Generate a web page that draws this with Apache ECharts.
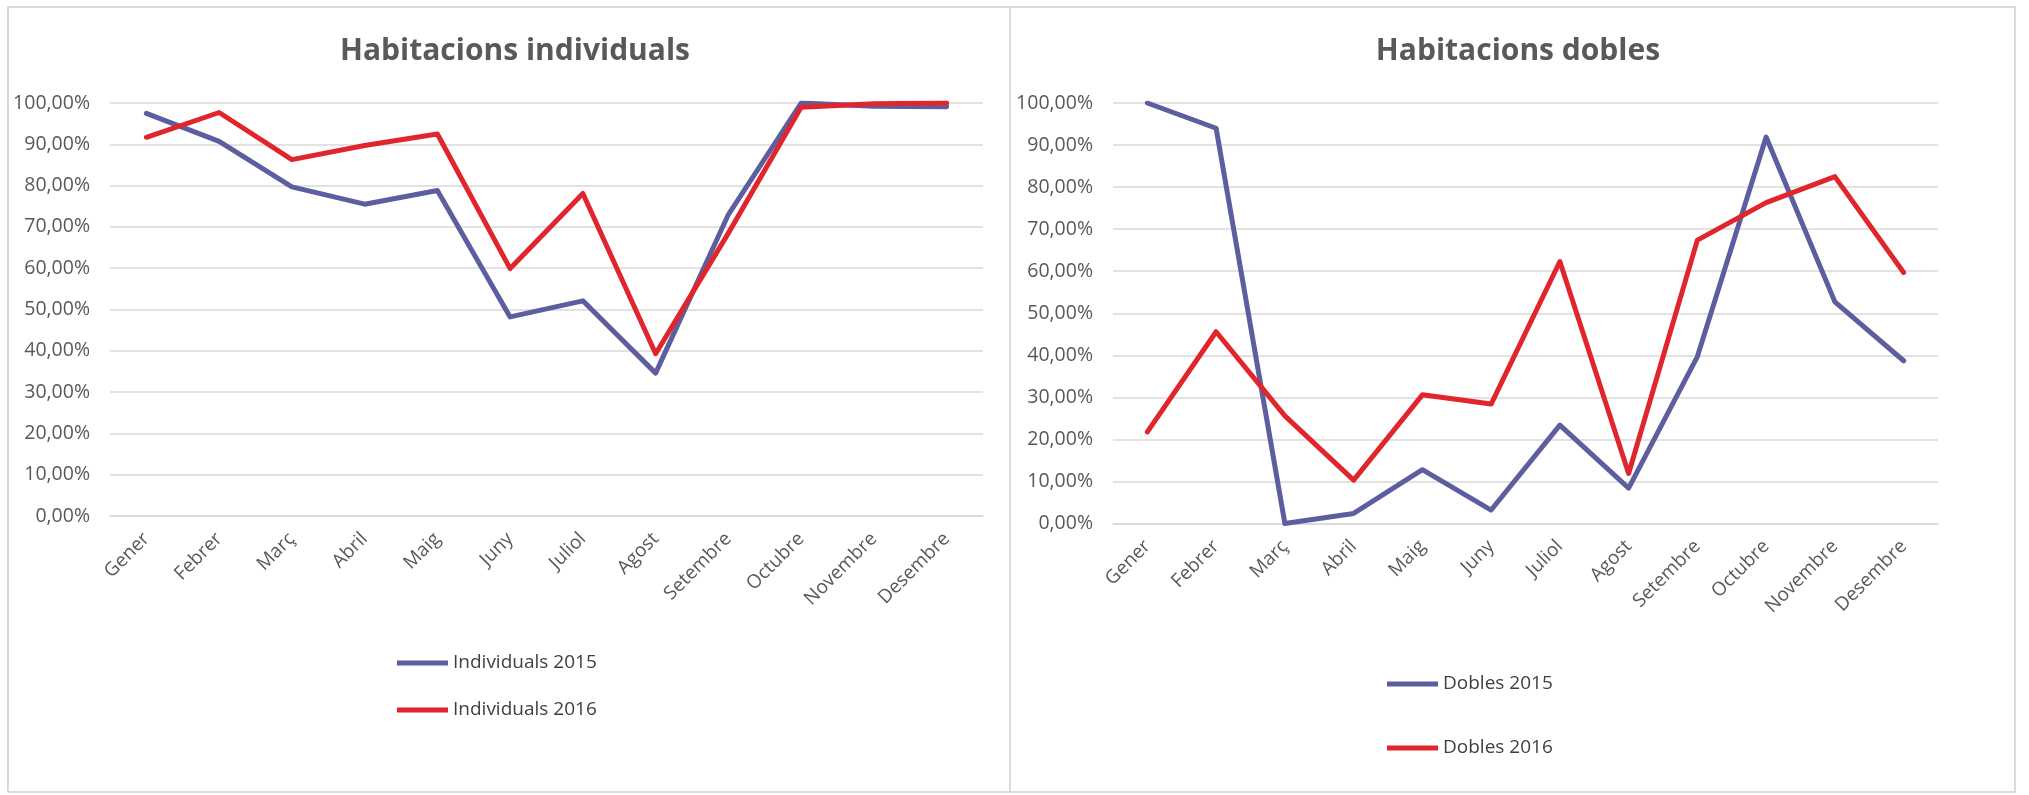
<!DOCTYPE html>
<html>
<head>
<meta charset="utf-8">
<script src="https://cdn.jsdelivr.net/npm/echarts@6/dist/echarts.min.js"></script>
<style>
html,body{margin:0;padding:0;background:#fff;}
#chart{width:2029px;height:795px;}
</style>
</head>
<body>
<div id="chart"></div>
<script>
// ---- data ----
var months = ['Gener','Febrer','Març','Abril','Maig','Juny','Juliol','Agost','Setembre','Octubre','Novembre','Desembre'];
var individuals2015 = [97.5, 90.7, 79.7, 75.5, 78.8, 48.2, 52.1, 34.6, 73.0, 100.0, 99.2, 99.1];
var individuals2016 = [91.7, 97.7, 86.3, 89.7, 92.5, 59.9, 78.1, 39.3, 68.5, 99.0, 99.8, 100.0];
var dobles2015 = [100.0, 94.0, 0.0, 2.4, 12.8, 3.2, 23.4, 8.4, 39.7, 91.9, 52.7, 38.7];
var dobles2016 = [21.8, 45.6, 25.6, 10.3, 30.6, 28.4, 62.3, 11.9, 67.4, 76.3, 82.5, 59.7];
var yTicks = {min: 0, max: 100, interval: 10};

var blue = '#5d5e9f';
var red = '#e0262c';
var grey = '#595959';
var gridCol = '#d9d9d9';
var font = '"Open Sans", "Noto Sans", sans-serif';

function pct(v){ return v.toFixed(2).replace('.', ',') + '%'; }

function xAxis(i){
  return {
    type: 'category', gridIndex: i, data: months, boundaryGap: true,
    axisTick: {show: false},
    axisLine: {lineStyle: {color: gridCol, width: 1.5}},
    axisLabel: {rotate: 45, interval: 0, margin: 20, color: grey, fontSize: 19, fontFamily: font}
  };
}
function yAxis(i){
  return {
    type: 'value', gridIndex: i, min: yTicks.min, max: yTicks.max, interval: yTicks.interval,
    axisLine: {show: false}, axisTick: {show: false},
    splitLine: {lineStyle: {color: gridCol, width: 1.5}},
    axisLabel: {formatter: pct, margin: 20, color: grey, fontSize: 19.5, fontFamily: font}
  };
}
function line(name, data, color, i){
  return {
    type: 'line', name: name, data: data, xAxisIndex: i, yAxisIndex: i,
    showSymbol: false, symbol: 'none', smooth: false,
    lineStyle: {color: color, width: 5, join: 'round', cap: 'round'},
    itemStyle: {color: color}, animation: false
  };
}
function legend(names, left, top, gap){
  return {
    data: names, orient: 'vertical', left: left, top: top, itemGap: gap,
    icon: 'rect', itemWidth: 51, itemHeight: 5,
    textStyle: {color: '#404040', fontSize: 19, lineHeight: 20, fontFamily: font}
  };
}

var chart = echarts.init(document.getElementById('chart'));
chart.setOption({
  backgroundColor: '#fff',
  animation: false,
  title: [
    {text: 'Habitacions individuals', left: 510, top: 31, textAlign: 'center',
     textStyle: {color: grey, fontSize: 30, fontWeight: 'bold', fontFamily: font}},
    {text: 'Habitacions dobles', left: 1513, top: 31, textAlign: 'center',
     textStyle: {color: grey, fontSize: 30, fontWeight: 'bold', fontFamily: font}}
  ],
  grid: [
    {left: 110, right: 2029 - 983, top: 103, bottom: 795 - 516, containLabel: false},
    {left: 1113, right: 2029 - 1938, top: 103, bottom: 795 - 523.5, containLabel: false}
  ],
  xAxis: [xAxis(0), xAxis(1)],
  yAxis: [yAxis(0), yAxis(1)],
  legend: [
    legend(['Individuals 2015', 'Individuals 2016'], 392, 648, 27),
    legend(['Dobles 2015', 'Dobles 2016'], 1382, 669, 44)
  ],
  series: [
    line('Individuals 2015', individuals2015, blue, 0),
    line('Individuals 2016', individuals2016, red, 0),
    line('Dobles 2015', dobles2015, blue, 1),
    line('Dobles 2016', dobles2016, red, 1)
  ],
  graphic: [
    {type: 'rect', shape: {x: 8, y: 7, width: 2007, height: 785}, silent: true,
     style: {fill: 'none', stroke: '#d0d0d0', lineWidth: 1.5}},
    {type: 'line', shape: {x1: 1010, y1: 7, x2: 1010, y2: 792}, silent: true,
     style: {stroke: '#d0d0d0', lineWidth: 1.5}}
  ]
});
</script>
</body>
</html>
